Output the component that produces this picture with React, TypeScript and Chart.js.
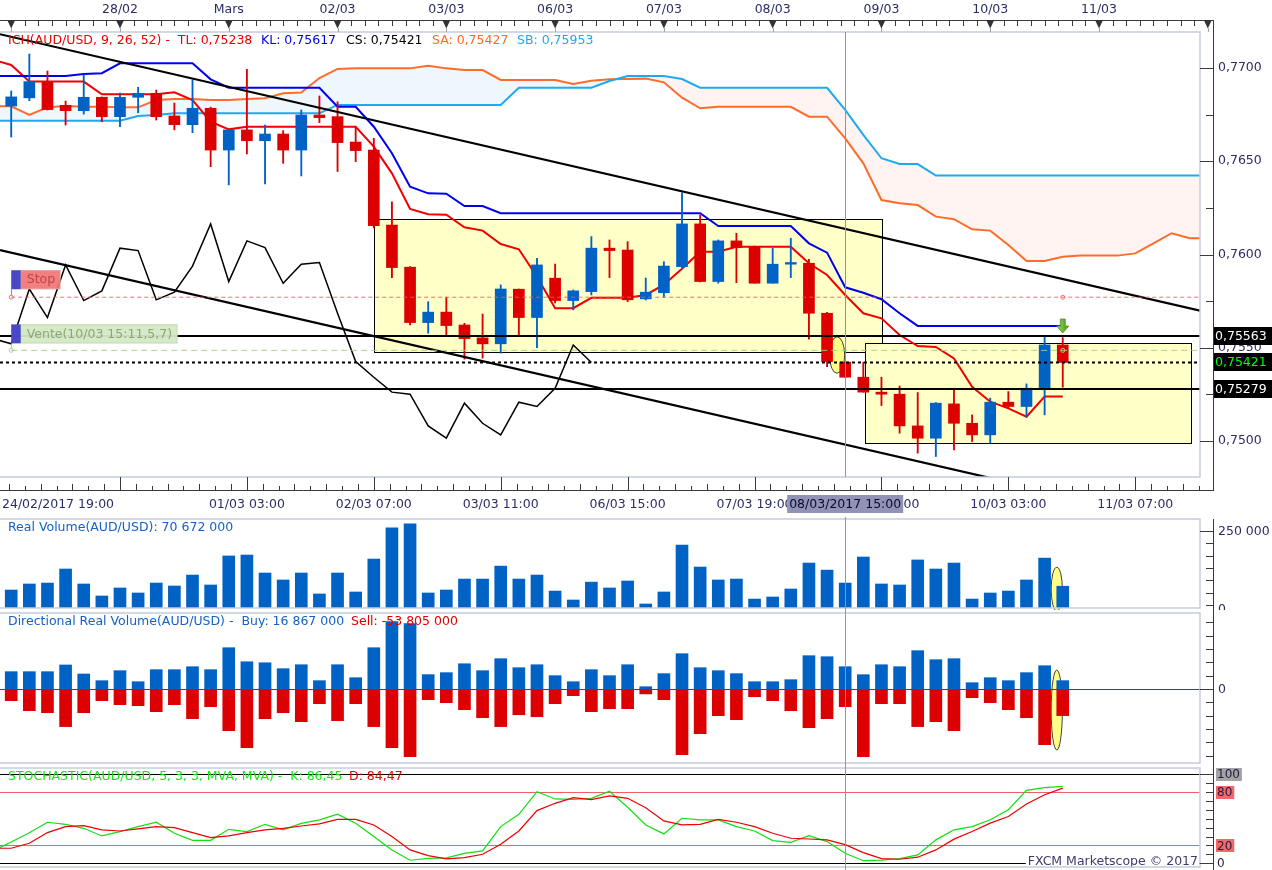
import React, { useEffect, useRef } from 'react';
import { Chart, registerables } from 'chart.js';

Chart.register(...registerables);

/* ============================== DATA ============================== */

// time axis (H4 candles, index 0 = first candle of 27/02)
const DAY_MARK_IDX = [0, 6, 12, 18, 24, 30, 36, 42, 48, 54, 60, 66];
const DAY_LABELS = ['', '28/02', 'Mars', '02/03', '03/03', '06/03', '07/03', '08/03', '09/03', '10/03', '11/03', ''];
const TIME_MARK_IDX = [-1, 6, 13, 20, 27, 34, 41, 48, 55, 62];
const TIME_LABELS = ['24/02/2017 19:00', '', '01/03 03:00', '02/03 07:00', '03/03 11:00', '06/03 15:00', '07/03 19:00', '08/03 23:00', '10/03 03:00', '11/03 07:00'];
const CURSOR_IDX = 46;
const CURSOR_LABEL = '08/03/2017 15:00';

// candles, index 0..58
const OPEN = [
  0.76796, 0.76840, 0.76923, 0.76800, 0.76771, 0.76843, 0.76739, 0.76843, 0.76864, 0.76743,
  0.76696, 0.76784, 0.76560, 0.76668, 0.76610, 0.76646, 0.76560, 0.76748, 0.76739, 0.76603,
  0.76560, 0.76158, 0.75932, 0.75635, 0.75691, 0.75622, 0.75553, 0.75521, 0.75814, 0.75662,
  0.75873, 0.75753, 0.75801, 0.76034, 0.76024, 0.75762, 0.75795, 0.75935, 0.76164, 0.75855,
  0.76073, 0.76042, 0.75846, 0.75948, 0.75953, 0.75685, 0.75423, 0.75342, 0.75262, 0.75251,
  0.75081, 0.75015, 0.75199, 0.75095, 0.75033, 0.75208, 0.75185, 0.75283, 0.75515,
];
const HIGH = [
  0.76877, 0.77075, 0.76984, 0.76823, 0.76964, 0.76845, 0.76866, 0.76897, 0.76882, 0.76812,
  0.76936, 0.76790, 0.76668, 0.76993, 0.76694, 0.76664, 0.76775, 0.76850, 0.76819, 0.76682,
  0.76623, 0.76283, 0.75935, 0.75747, 0.75771, 0.75631, 0.75681, 0.75837, 0.75815, 0.75980,
  0.75949, 0.75810, 0.76096, 0.76078, 0.76069, 0.75874, 0.75961, 0.76330, 0.76212, 0.76078,
  0.76114, 0.76045, 0.76034, 0.76087, 0.75974, 0.75690, 0.75425, 0.75423, 0.75342, 0.75295,
  0.75260, 0.75206, 0.75283, 0.75140, 0.75230, 0.75265, 0.75306, 0.75563, 0.75554,
];
const LOW = [
  0.76630, 0.76825, 0.76775, 0.76694, 0.76753, 0.76712, 0.76685, 0.76760, 0.76721, 0.76668,
  0.76653, 0.76471, 0.76373, 0.76539, 0.76378, 0.76489, 0.76421, 0.76707, 0.76445, 0.76498,
  0.76142, 0.75876, 0.75622, 0.75578, 0.75560, 0.75439, 0.75444, 0.75471, 0.75560, 0.75501,
  0.75740, 0.75703, 0.75783, 0.75876, 0.75747, 0.75756, 0.75771, 0.75928, 0.75853, 0.75846,
  0.75849, 0.75846, 0.75846, 0.75876, 0.75546, 0.75399, 0.75340, 0.75262, 0.75190, 0.75042,
  0.74935, 0.74917, 0.74952, 0.74997, 0.74988, 0.75176, 0.75128, 0.75140, 0.75288,
];
const CLOSE = [
  0.76845, 0.76927, 0.76777, 0.76771, 0.76843, 0.76739, 0.76843, 0.76864, 0.76739, 0.76696,
  0.76784, 0.76560, 0.76668, 0.76610, 0.76646, 0.76560, 0.76748, 0.76734, 0.76600, 0.76557,
  0.76155, 0.75930, 0.75635, 0.75691, 0.75619, 0.75549, 0.75521, 0.75815, 0.75662, 0.75944,
  0.75753, 0.75805, 0.76034, 0.76021, 0.75757, 0.75798, 0.75938, 0.76164, 0.75855, 0.76073,
  0.76037, 0.75846, 0.75948, 0.75957, 0.75685, 0.75426, 0.75342, 0.75262, 0.75251, 0.75081,
  0.75015, 0.75203, 0.75095, 0.75033, 0.75208, 0.75185, 0.75283, 0.75515, 0.75421,
];

// Ichimoku lines, first value is at index -1
const IND_START = -1;
const TENKAN = [
  0.77045, 0.77016, 0.76927, 0.76927, 0.76927, 0.76927, 0.76859, 0.76859, 0.76859, 0.76859,
  0.76870, 0.76828, 0.76712, 0.76671, 0.76685, 0.76685, 0.76685, 0.76685, 0.76685, 0.76685,
  0.76685, 0.76578, 0.76435, 0.76244, 0.76216, 0.76213, 0.76146, 0.76128, 0.76056, 0.76028,
  0.75881, 0.75712, 0.75712, 0.75768, 0.75768, 0.75768, 0.75783, 0.75838, 0.75924, 0.76015,
  0.76015, 0.76042, 0.76042, 0.76042, 0.76042, 0.75953, 0.75890, 0.75783, 0.75685, 0.75658,
  0.75568, 0.75509, 0.75504, 0.75443, 0.75291, 0.75211, 0.75175, 0.75130, 0.75238, 0.75238,
];
const KIJUN = [
  0.76957, 0.76957, 0.76957, 0.76957, 0.76957, 0.76968, 0.76972, 0.77025, 0.77025, 0.77025,
  0.77025, 0.77025, 0.76939, 0.76894, 0.76894, 0.76894, 0.76894, 0.76894, 0.76894, 0.76792,
  0.76792, 0.76685, 0.76543, 0.76364, 0.76328, 0.76326, 0.76260, 0.76260, 0.76221, 0.76221,
  0.76221, 0.76221, 0.76221, 0.76221, 0.76221, 0.76221, 0.76221, 0.76221, 0.76221, 0.76221,
  0.76153, 0.76153, 0.76153, 0.76153, 0.76153, 0.76060, 0.76010, 0.75824, 0.75795, 0.75760,
  0.75685, 0.75617, 0.75617, 0.75617, 0.75617, 0.75617, 0.75617, 0.75617, 0.75617, 0.75617,
];
const SENKOU_A = [
  0.76795, 0.76795, 0.76748, 0.76789, 0.76796, 0.76792, 0.76792, 0.76789, 0.76789, 0.76828,
  0.76834, 0.76834, 0.76828, 0.76828, 0.76834, 0.76838, 0.76864, 0.76868, 0.76946, 0.76995,
  0.76998, 0.76998, 0.76998, 0.76998, 0.77012, 0.76998, 0.76989, 0.76989, 0.76936, 0.76936,
  0.76936, 0.76936, 0.76914, 0.76932, 0.76939, 0.76941, 0.76943, 0.76923, 0.76841, 0.76784,
  0.76792, 0.76792, 0.76792, 0.76792, 0.76792, 0.76739, 0.76739, 0.76623, 0.76489, 0.76292,
  0.76275, 0.76265, 0.76203, 0.76189, 0.76135, 0.76128, 0.76051, 0.75965, 0.75965, 0.75988,
  0.75994, 0.75994, 0.75994, 0.76006, 0.76060, 0.76114, 0.76087, 0.76087,
];
const SENKOU_B = [
  0.76717, 0.76717, 0.76717, 0.76717, 0.76717, 0.76717, 0.76717, 0.76717, 0.76743, 0.76748,
  0.76757, 0.76757, 0.76757, 0.76757, 0.76757, 0.76757, 0.76757, 0.76757, 0.76757, 0.76802,
  0.76802, 0.76802, 0.76802, 0.76802, 0.76802, 0.76802, 0.76802, 0.76802, 0.76802, 0.76894,
  0.76894, 0.76894, 0.76894, 0.76894, 0.76930, 0.76957, 0.76957, 0.76957, 0.76941, 0.76894,
  0.76894, 0.76894, 0.76894, 0.76894, 0.76894, 0.76894, 0.76894, 0.76775, 0.76641, 0.76516,
  0.76485, 0.76485, 0.76423, 0.76423, 0.76423, 0.76423, 0.76423, 0.76423, 0.76423, 0.76423,
  0.76423, 0.76423, 0.76423, 0.76423, 0.76423, 0.76423, 0.76423, 0.76423,
];
const CHIKOU_SHIFT = 26;

// drawn objects on the price chart
const TREND_UP_X = [-0.618, 65.57];
const TREND_UP_P = [0.77181, 0.75699];
const TREND_DN_X = [-0.618, 65.57];
const TREND_DN_P = [0.76024, 0.74543];
const LEVEL_PRICES = [0.75563, 0.75421, 0.75279];
const LEVEL_DOTTED = [false, true, false];
const LEVEL_TEXT_COLORS = ['#ffffff', '#00ff00', '#ffffff'];
const STOP_PRICE = 0.75771;
const ENTRY_PRICE = 0.75486;
const ORDER_START_IDX = 0;
const ORDER_END_IDX = 58;
const ARROW_IDX = 58;
const ARROW_PRICE = 0.75579;
const BOX_X0 = [20.01, 47.07];
const BOX_X1 = [48.03, 65.05];
const BOX_P_TOP = [0.76189, 0.75527];
const BOX_P_BOT = [0.75479, 0.74988];
const MAIN_ELLIPSE = { x: 45.55, v: 0.75461, rx: 0.42, rv: 0.00098 };
const PRICE_TICKS = [0.7500, 0.7525, 0.7550, 0.7575, 0.7600, 0.7625, 0.7650, 0.7675, 0.7700];
const PRICE_LABELS = [0.7500, 0.7550, 0.7600, 0.7650, 0.7700];

// volumes (millions)
const VOLUME = [
  58.4, 78, 81, 126.6, 78, 39, 65, 48.7, 81, 71.4,
  107, 74.7, 169, 172, 113.6, 91, 113.6, 45.5, 113.6, 52,
  159, 260, 273, 48.7, 58.4, 94, 94, 136, 94, 107,
  55, 26, 84, 65, 87.7, 13, 52, 204.5, 133, 91,
  94, 29, 35.7, 61.7, 146, 123, 81, 165.6, 78, 74.7,
  156, 126.6, 146, 29, 48.7, 55, 91, 162, 70.672,
];
const BUY_VOL = [
  35, 35, 35, 48.5, 30.3, 16.8, 37, 14.7, 39, 39,
  45, 39, 83.4, 55, 53, 41, 49, 16.8, 49, 22.8,
  83.4, 136, 132, 29, 33, 51, 37, 61.2, 43, 49,
  26.9, 14.7, 39, 26.9, 49, 4.6, 31, 71.3, 43, 37,
  31, 14.7, 14.7, 18.8, 67.3, 65.2, 45, 28.9, 49, 45,
  77.4, 59.2, 61.2, 12.7, 22.8, 16.8, 33, 47, 16.867,
];
const SELL_VOL = [
  -23.6, -43.8, -47.9, -76, -47.9, -23.6, -31.7, -33.7, -45.8, -31.7,
  -60, -35.7, -84.2, -118.5, -60, -47.9, -66, -29.7, -64, -29.7,
  -76, -118.5, -136.7, -21.6, -27.7, -41.8, -58, -76, -52, -56,
  -29.7, -13.5, -45.8, -39.8, -39.8, -10, -21.6, -132.7, -90.3, -54,
  -62, -15.6, -23.6, -43.8, -78.2, -60, -35.7, -136.7, -29.7, -29.7,
  -76, -66, -84.2, -17.6, -27.7, -41.8, -58, -112.5, -53.805,
];
const VOL_TICKS = [10, 50, 90, 130, 170, 210, 250];
const VOL_LABEL_VALUE = 250;
const DIR_TICKS = [-135, -108, -81, -54, -27, 0, 27, 54, 81, 108, 135];
const VOL_ELLIPSE = { x: 57.67, v: 61.4, rx: 0.31, rv: 71 };
const DIR_ELLIPSE = { x: 57.67, v: -42.4, rx: 0.31, rv: 80.8 };

// stochastic, first value at index -1
const STOCH_K = [
  13.9, 24.0, 34.3, 46.1, 43.8, 39.3, 30.7, 35.6, 41.2, 46.1,
  33.7, 25.8, 25.8, 38.2, 35.6, 43.8, 37.5, 44.9, 48.7, 55.1,
  44.9, 30.0, 15.0, 3.4, 5.6, 6.0, 11.2, 13.9, 41.2, 55.1,
  80.5, 72.3, 71.9, 73.0, 80.9, 63.0, 43.1, 33.0, 50.6, 48.7,
  48.7, 41.2, 36.3, 25.5, 23.6, 31.1, 24.4, 11.3, 2.9, 3.5,
  5.2, 9.4, 26.3, 37.6, 41.2, 48.9, 60.2, 82.0, 85.0, 86.45,
];
const STOCH_D = [
  16.9, 16.9, 22.5, 34.5, 41.2, 42.3, 37.5, 36.3, 38.6, 41.2,
  40.1, 34.5, 28.8, 30.7, 34.5, 37.5, 39.3, 41.9, 44.2, 49.4,
  49.4, 43.1, 30.0, 15.0, 8.6, 4.9, 6.4, 10.1, 21.3, 36.3,
  59.2, 67.4, 73.8, 71.5, 75.7, 73.0, 62.5, 47.6, 43.1, 43.8,
  49.4, 46.1, 41.2, 33.7, 28.1, 27.3, 26.3, 21.0, 12.0, 5.2,
  4.5, 6.8, 15.0, 27.1, 35.7, 45.1, 52.6, 66.6, 77.1, 84.47,
];
const STOCH_TICKS = [0, 10, 20, 30, 40, 50, 60, 70, 80, 90, 100];
const STOCH_LEVELS = [0, 20, 80, 100];

/* ============================== STYLE ============================== */

const WIDTH = 1272;
const PAD_RIGHT = 72;
const AXIS_X = 1213;
const LABEL_X = 1218;
const X_MIN = -0.618;
const X_MAX = 65.57;
const PRICE_MIN = 0.74807;
const PRICE_MAX = 0.77193;
const BULL = '#0062c4';
const BEAR = '#dc0000';
const BORDER = '#c5cdd9';
const AXIS_DARK = '#3a3a3a';
const LABEL_COLOR = '#2d2d66';
const CURSOR_COLOR = '#8c94b2';
const FAMILY = '"DejaVu Sans", "Liberation Sans", sans-serif';
const font = (s: number) => `${s}px ${FAMILY}`;

const crisp = (v: number) => Math.round(v) + 0.5;

function text(ctx: any, s: string, x: number, y: number, color: string, size = 12.5, align = 'left') {
  ctx.font = font(size);
  ctx.fillStyle = color;
  ctx.textAlign = align;
  ctx.textBaseline = 'middle';
  ctx.fillText(s, x, y);
}

function line(ctx: any, x0: number, y0: number, x1: number, y1: number) {
  ctx.beginPath();
  ctx.moveTo(x0, y0);
  ctx.lineTo(x1, y1);
  ctx.stroke();
}

function panelBorder(chart: any) {
  const { ctx, chartArea: a } = chart;
  ctx.save();
  ctx.strokeStyle = BORDER;
  ctx.lineWidth = 1.5;
  ctx.beginPath();
  ctx.moveTo(0, a.top);
  ctx.lineTo(a.right, a.top);
  ctx.lineTo(a.right, a.bottom);
  ctx.lineTo(0, a.bottom);
  ctx.stroke();
  ctx.restore();
}

function rightTicks(chart: any, values: number[], isMajor: (v: number) => boolean) {
  const { ctx, chartArea: a } = chart;
  const ys = chart.scales.y;
  ctx.strokeStyle = AXIS_DARK;
  ctx.lineWidth = 1;
  for (const v of values) {
    const y = crisp(ys.getPixelForValue(v));
    if (y < a.top - 1 || y > a.bottom + 1) continue;
    line(ctx, isMajor(v) ? a.right : AXIS_X - 7, y, AXIS_X, y);
  }
}

function drawEllipse(chart: any, e: any) {
  const { ctx } = chart;
  const xs = chart.scales.x, ys = chart.scales.y;
  const cx = xs.getPixelForValue(e.x), cy = ys.getPixelForValue(e.v);
  const rx = Math.abs(xs.getPixelForValue(e.x + e.rx) - cx);
  const ry = Math.abs(ys.getPixelForValue(e.v + e.rv) - cy);
  ctx.save();
  ctx.beginPath();
  ctx.ellipse(cx, cy, rx, ry, 0, 0, Math.PI * 2);
  ctx.fillStyle = '#ffff88';
  ctx.fill();
  ctx.strokeStyle = '#111';
  ctx.lineWidth = 0.8;
  ctx.stroke();
  ctx.restore();
}

function cursorLine(chart: any, y0: number, y1: number) {
  const { ctx } = chart;
  const x = crisp(chart.scales.x.getPixelForValue(CURSOR_IDX));
  ctx.save();
  ctx.strokeStyle = CURSOR_COLOR;
  ctx.lineWidth = 1;
  line(ctx, x, y0, x, y1);
  ctx.restore();
}

function orderLabel(ctx: any, x: number, top: number, label: string, fill: string, color: string, edge: string) {
  ctx.font = font(12.5);
  const tw = ctx.measureText(label).width;
  ctx.fillStyle = fill;
  ctx.fillRect(x + 9.5, top, tw + 11, 19);
  ctx.strokeStyle = edge;
  ctx.lineWidth = 1;
  ctx.strokeRect(x + 9.5, top + 0.5, tw + 11, 18);
  ctx.fillStyle = '#4848c8';
  ctx.fillRect(x, top, 9.5, 19);
  text(ctx, label, x + 15.5, top + 10, color);
}

/* ============================== PLUGINS ============================== */

const mainDecor = {
  id: 'mainDecor',
  beforeDatasetsDraw(chart: any) {
    const { ctx, chartArea: a } = chart;
    const xs = chart.scales.x, ys = chart.scales.y;
    ctx.save();
    ctx.beginPath();
    ctx.rect(a.left, a.top, a.right - a.left, a.bottom - a.top);
    ctx.clip();
    for (let i = 0; i < BOX_X0.length; i++) {
      const x0 = crisp(xs.getPixelForValue(BOX_X0[i]));
      const x1 = crisp(xs.getPixelForValue(BOX_X1[i]));
      const y0 = crisp(ys.getPixelForValue(BOX_P_TOP[i]));
      const y1 = crisp(ys.getPixelForValue(BOX_P_BOT[i]));
      ctx.fillStyle = '#ffffc8';
      ctx.fillRect(x0, y0, x1 - x0, y1 - y0);
      ctx.strokeStyle = '#000';
      ctx.lineWidth = 1;
      ctx.strokeRect(x0, y0, x1 - x0, y1 - y0);
    }
    ctx.restore();
  },
  beforeDatasetDraw(chart: any, args: any) {
    if (chart.data.datasets[args.index].label !== 'wick') return;
    drawEllipse(chart, MAIN_ELLIPSE);
  },
  afterDatasetsDraw(chart: any) {
    const { ctx, chartArea: a } = chart;
    const xs = chart.scales.x, ys = chart.scales.y;
    const X = (v: number) => xs.getPixelForValue(v);
    const Y = (v: number) => ys.getPixelForValue(v);
    ctx.save();

    // order markers
    const x0 = X(ORDER_START_IDX), xe = X(ORDER_END_IDX);
    const sy = Y(STOP_PRICE), ey = Y(ENTRY_PRICE);
    ctx.lineWidth = 1;
    ctx.strokeStyle = '#f06a6a';
    line(ctx, crisp(x0), sy - 8, crisp(x0), sy - 2);
    for (const px of [x0, xe]) { ctx.beginPath(); ctx.arc(px, sy, 2, 0, Math.PI * 2); ctx.stroke(); }
    ctx.strokeStyle = '#a8d48c';
    line(ctx, crisp(x0), ey - 7, crisp(x0), ey - 2);
    for (const px of [x0, xe]) { ctx.beginPath(); ctx.arc(px, ey, 2, 0, Math.PI * 2); ctx.stroke(); }
    orderLabel(ctx, x0, sy - 27, 'Stop', 'rgba(240,116,116,0.92)', '#c24444', '#e8a0a0');
    orderLabel(ctx, x0, ey - 26, 'Vente(10/03 15:11,5,7)', 'rgba(212,233,198,0.95)', '#8aa876', '#c2dcb0');

    // green arrow
    const ax = X(ARROW_IDX), ay = Y(ARROW_PRICE);
    const g = ctx.createLinearGradient(ax - 6, 0, ax + 6, 0);
    g.addColorStop(0, '#9ad85a');
    g.addColorStop(1, '#3f9a1c');
    ctx.beginPath();
    ctx.moveTo(ax, ay);
    ctx.lineTo(ax - 6, ay - 7);
    ctx.lineTo(ax - 2.5, ay - 7);
    ctx.lineTo(ax - 2.5, ay - 14);
    ctx.lineTo(ax + 2.5, ay - 14);
    ctx.lineTo(ax + 2.5, ay - 7);
    ctx.lineTo(ax + 6, ay - 7);
    ctx.closePath();
    ctx.fillStyle = g;
    ctx.fill();
    ctx.strokeStyle = '#4b8f22';
    ctx.lineWidth = 0.8;
    ctx.stroke();

    panelBorder(chart);

    // top time axis
    ctx.strokeStyle = AXIS_DARK;
    ctx.lineWidth = 1;
    line(ctx, 0, 20.5, AXIS_X + 0.5, 20.5);
    for (let k = 0; k * 0.75 <= X_MAX + 1; k++) {
      const x = crisp(X(k * 0.75));
      if (x > AXIS_X) break;
      line(ctx, x, 21, x, 26);
    }
    DAY_MARK_IDX.forEach((d, i) => {
      const x = X(d);
      ctx.fillStyle = '#333';
      ctx.beginPath();
      ctx.moveTo(x - 4, 20);
      ctx.lineTo(x + 4, 20);
      ctx.lineTo(x, 28.5);
      ctx.closePath();
      ctx.fill();
      ctx.strokeStyle = '#9aa4b8';
      line(ctx, crisp(x), 28, crisp(x), a.top);
      if (DAY_LABELS[i]) text(ctx, DAY_LABELS[i], x, 10, LABEL_COLOR, 12.5, 'center');
    });

    // bottom time axis
    ctx.strokeStyle = AXIS_DARK;
    line(ctx, 0, 490.5, AXIS_X + 0.5, 490.5);
    for (let k = 0; ; k++) {
      const idx = TIME_MARK_IDX[0] + k * 0.875;
      const x = crisp(X(idx));
      if (x > a.right) break;
      if (x < 0) continue;
      const major = k % 8 === 0;
      line(ctx, x, major ? a.bottom : (k % 2 ? 484 : 486), x, 490);
    }
    TIME_MARK_IDX.forEach((t, i) => {
      if (!TIME_LABELS[i]) return;
      ctx.font = font(12.5);
      const w = ctx.measureText(TIME_LABELS[i]).width;
      const x = X(t);
      if (x - w / 2 < 2) text(ctx, TIME_LABELS[i], 2, 505, LABEL_COLOR);
      else text(ctx, TIME_LABELS[i], x, 505, LABEL_COLOR, 12.5, 'center');
    });

    // cursor
    cursorLine(chart, a.top, a.bottom);
    {
      const cx = X(CURSOR_IDX);
      ctx.font = font(12.5);
      const w = ctx.measureText(CURSOR_LABEL).width + 4;
      ctx.fillStyle = '#9092b6';
      ctx.fillRect(cx - w / 2, 495, w, 18);
      text(ctx, CURSOR_LABEL, cx, 504.5, '#0a0a2a', 12.5, 'center');
    }

    // right price axis
    ctx.strokeStyle = AXIS_DARK;
    ctx.lineWidth = 1;
    line(ctx, AXIS_X + 0.5, 20, AXIS_X + 0.5, 491);
    rightTicks(chart, PRICE_TICKS, (v) => PRICE_LABELS.some((p) => Math.abs(p - v) < 1e-7));
    for (const p of PRICE_LABELS) text(ctx, p.toFixed(4).replace('.', ','), LABEL_X, Y(p), LABEL_COLOR);
    LEVEL_PRICES.forEach((p, i) => {
      const y = Y(p);
      ctx.fillStyle = '#000';
      ctx.fillRect(AXIS_X + 1, Math.round(y) - 9, WIDTH - AXIS_X, 18);
      text(ctx, p.toFixed(5).replace('.', ','), LABEL_X - 3, y + 0.5, LEVEL_TEXT_COLORS[i]);
    });

    // header
    const hy = 41;
    text(ctx, 'ICH(AUD/USD, 9, 26, 52) -  TL: 0,75238', 8, hy, '#ee0000');
    text(ctx, 'KL: 0,75617', 261, hy, '#0000e6');
    text(ctx, 'CS: 0,75421', 346, hy, '#000000');
    text(ctx, 'SA: 0,75427', 432, hy, '#ff6a20');
    text(ctx, 'SB: 0,75953', 517, hy, '#1ea8ef');
    ctx.restore();
  },
};

const volDecor = {
  id: 'volDecor',
  beforeDatasetsDraw(chart: any) { drawEllipse(chart, VOL_ELLIPSE); },
  afterDatasetsDraw(chart: any) {
    const { ctx, chartArea: a } = chart;
    const ys = chart.scales.y;
    ctx.save();
    panelBorder(chart);
    cursorLine(chart, 0, chart.height);
    ctx.strokeStyle = AXIS_DARK;
    ctx.lineWidth = 1;
    line(ctx, AXIS_X + 0.5, a.top, AXIS_X + 0.5, chart.height);
    rightTicks(chart, VOL_TICKS, (v) => v === VOL_LABEL_VALUE);
    text(ctx, '250 000 000', LABEL_X, ys.getPixelForValue(VOL_LABEL_VALUE) + 1, LABEL_COLOR);
    text(ctx, '0', LABEL_X, ys.getPixelForValue(0) + 2, LABEL_COLOR);
    text(ctx, 'Real Volume(AUD/USD): 70 672 000', 8, 527.5 - 517, '#1462c4');
    ctx.restore();
  },
};

const dirDecor = {
  id: 'dirDecor',
  beforeDatasetsDraw(chart: any) { drawEllipse(chart, DIR_ELLIPSE); },
  afterDatasetsDraw(chart: any) {
    const { ctx, chartArea: a } = chart;
    const ys = chart.scales.y;
    ctx.save();
    const zy = crisp(ys.getPixelForValue(0));
    ctx.strokeStyle = '#e00000';
    ctx.lineWidth = 1;
    line(ctx, 0, zy, a.right, zy);
    panelBorder(chart);
    cursorLine(chart, 0, chart.height);
    ctx.strokeStyle = AXIS_DARK;
    line(ctx, AXIS_X + 0.5, 0, AXIS_X + 0.5, chart.height);
    rightTicks(chart, DIR_TICKS, (v) => v === 0);
    text(ctx, '0', LABEL_X, zy, LABEL_COLOR);
    const hy = 621.5 - 610;
    text(ctx, 'Directional Real Volume(AUD/USD) -  Buy: 16 867 000', 8, hy, '#1462c4');
    text(ctx, 'Sell: -53 805 000', 351, hy, '#e00000');
    ctx.restore();
  },
};

const stochDecor = {
  id: 'stochDecor',
  beforeDatasetsDraw(chart: any) {
    const { ctx, chartArea: a } = chart;
    const ys = chart.scales.y;
    ctx.save();
    ctx.lineWidth = 1;
    for (const v of STOCH_LEVELS) {
      const y = crisp(ys.getPixelForValue(v));
      ctx.strokeStyle = v === 0 || v === 100 ? '#000' : '#f06060';
      line(ctx, 0, y, a.right, y);
    }
    ctx.restore();
  },
  afterDatasetsDraw(chart: any) {
    const { ctx, chartArea: a } = chart;
    const ys = chart.scales.y;
    ctx.save();
    // watermark
    ctx.font = font(12.5);
    const wm = 'FXCM Marketscope \u00a9 2017';
    const ww = ctx.measureText(wm).width;
    ctx.fillStyle = '#fff';
    ctx.fillRect(a.right - ww - 4, 88, ww + 3, 12);
    text(ctx, wm, a.right - 2, 95.5, '#3c3c6e', 12.5, 'right');
    panelBorder(chart);
    cursorLine(chart, 0, chart.height);
    ctx.strokeStyle = AXIS_DARK;
    ctx.lineWidth = 1;
    line(ctx, AXIS_X + 0.5, 0, AXIS_X + 0.5, chart.height);
    rightTicks(chart, STOCH_TICKS, (v) => v === 0 || v === 100);
    const boxes: any = { 100: '#a3a3a3', 80: '#f26868', 20: '#f26868' };
    for (const v of [100, 80, 20, 0]) {
      const y = ys.getPixelForValue(v);
      const s = String(v);
      ctx.font = font(12);
      const w = ctx.measureText(s).width;
      if (boxes[v]) {
        ctx.fillStyle = boxes[v];
        ctx.fillRect(LABEL_X - 2, Math.round(y) - 6, w + 3, 13);
      }
      text(ctx, s, LABEL_X - 1, y + 1, '#1e1e40', 12);
    }
    text(ctx, 'STOCHASTIC(AUD/USD, 5, 3, 3, MVA, MVA) -  K: 86,45', 8, 10.5, '#14e614');
    text(ctx, 'D: 84,47', 349, 10.5, '#ee0000');
    ctx.restore();
  },
};

/* ============================== CONFIGS ============================== */

function baseOptions(yMin: number, yMax: number, top: number, bottom: number) {
  return {
    responsive: false,
    animation: false,
    events: [],
    layout: { padding: { left: 0, right: PAD_RIGHT, top, bottom } },
    scales: {
      x: { type: 'linear', min: X_MIN, max: X_MAX, display: false, offset: false, bounds: 'data' },
      y: { type: 'linear', min: yMin, max: yMax, display: false, bounds: 'data', beginAtZero: false },
    },
    plugins: { legend: { display: false }, tooltip: { enabled: false } },
  };
}

const series = (arr: number[], start: number) => arr.map((v, k) => ({ x: start + k, y: v }));
const seg = (xs: number[], ps: number[]) => xs.map((x, k) => ({ x, y: ps[k] }));
const lineDs = (label: string, data: any[], color: string, width: number, order: number, extra: any = {}) => ({
  type: 'line', label, data, borderColor: color, borderWidth: width, pointRadius: 0, pointHoverRadius: 0,
  tension: 0, fill: false, order, ...extra,
});

function mainConfig(): any {
  const colors = CLOSE.map((c, i) => (c >= OPEN[i] ? BULL : BEAR));
  const chikou = CLOSE.slice(CHIKOU_SHIFT - 1).map((c, k) => ({ x: -1 + k, y: c }));
  const datasets: any[] = [
    lineDs('SA', series(SENKOU_A, IND_START), '#ff6b2b', 2, 30, {
      fill: { target: '+1', above: '#eef7fc', below: '#fff4f1' },
    }),
    lineDs('SB', series(SENKOU_B, IND_START), '#1fa9f0', 2, 29),
    lineDs('TL', series(TENKAN, IND_START), '#f00000', 2, 28),
    lineDs('KL', series(KIJUN, IND_START), '#0000f0', 2, 27),
    {
      type: 'bar', label: 'wick', data: OPEN.map((_, i) => ({ x: i, y: [LOW[i], HIGH[i]] })),
      backgroundColor: colors, barThickness: 1.2, grouped: false, borderWidth: 0, order: 20,
    },
    {
      type: 'bar', label: 'body', data: OPEN.map((o, i) => ({ x: i, y: [o, CLOSE[i]] })),
      backgroundColor: colors, barThickness: 11, minBarLength: 1, grouped: false, borderWidth: 0, order: 19,
    },
    lineDs('CS', chikou, '#000000', 1.5, 15),
    lineDs('trendUp', seg(TREND_UP_X, TREND_UP_P), '#000000', 2.2, 14),
    lineDs('trendDn', seg(TREND_DN_X, TREND_DN_P), '#000000', 2.2, 13),
    ...LEVEL_PRICES.map((p, i) =>
      lineDs('level' + i, [{ x: X_MIN, y: p }, { x: X_MAX, y: p }], '#000000', 2, 12 - i,
        LEVEL_DOTTED[i] ? { borderDash: [3, 3] } : {})),
    lineDs('stop', [{ x: ORDER_START_IDX, y: STOP_PRICE }, { x: X_MAX, y: STOP_PRICE }], 'rgba(238,90,90,0.85)', 1, 8, { borderDash: [4, 3] }),
    lineDs('entry', [{ x: ORDER_START_IDX, y: ENTRY_PRICE }, { x: X_MAX, y: ENTRY_PRICE }], 'rgba(160,210,130,0.9)', 1, 7, { borderDash: [6, 4] }),
  ];
  return { type: 'bar', data: { datasets }, options: baseOptions(PRICE_MIN, PRICE_MAX, 32, 40), plugins: [mainDecor] };
}

function volConfig(): any {
  return {
    type: 'bar',
    data: { datasets: [{ label: 'vol', data: series(VOLUME, 0), backgroundColor: BULL, barThickness: 12, grouped: false, borderWidth: 0 }] },
    options: baseOptions(0, 289, 2, 2),
    plugins: [volDecor],
  };
}

function dirConfig(): any {
  return {
    type: 'bar',
    data: {
      datasets: [
        { label: 'buy', data: series(BUY_VOL, 0), backgroundColor: BULL, barThickness: 12, grouped: false, borderWidth: 0 },
        { label: 'sell', data: series(SELL_VOL, 0), backgroundColor: BEAR, barThickness: 12, grouped: false, borderWidth: 0 },
      ],
    },
    options: baseOptions(-149.5, 153.5, 3, 3),
    plugins: [dirDecor],
  };
}

function stochConfig(): any {
  return {
    type: 'line',
    data: {
      datasets: [
        lineDs('D', series(STOCH_D, IND_START), '#ee0000', 1.2, 1),
        lineDs('K', series(STOCH_K, IND_START), '#10e010', 1.2, 2),
      ],
    },
    options: baseOptions(-4.2, 107.1, 2, 3),
    plugins: [stochDecor],
  };
}

/* ============================== COMPONENT ============================== */

export default function App() {
  const mainRef = useRef<HTMLCanvasElement>(null);
  const volRef = useRef<HTMLCanvasElement>(null);
  const dirRef = useRef<HTMLCanvasElement>(null);
  const stoRef = useRef<HTMLCanvasElement>(null);

  useEffect(() => {
    const charts = [
      new Chart(mainRef.current as any, mainConfig()),
      new Chart(volRef.current as any, volConfig()),
      new Chart(dirRef.current as any, dirConfig()),
      new Chart(stoRef.current as any, stochConfig()),
    ];
    return () => charts.forEach((c) => c.destroy());
  }, []);

  const cv = (top: number, h: number): any => ({ position: 'absolute', left: 0, top, width: WIDTH, height: h, display: 'block' });
  return (
    <div style={{ position: 'absolute', left: 0, top: 0, width: WIDTH, height: 870, background: '#ffffff', overflow: 'hidden' }}>
      <canvas ref={mainRef} width={WIDTH} height={517} style={cv(0, 517)} />
      <canvas ref={volRef} width={WIDTH} height={93} style={cv(517, 93)} />
      <canvas ref={dirRef} width={WIDTH} height={156} style={cv(610, 156)} />
      <canvas ref={stoRef} width={WIDTH} height={104} style={cv(766, 104)} />
    </div>
  );
}
